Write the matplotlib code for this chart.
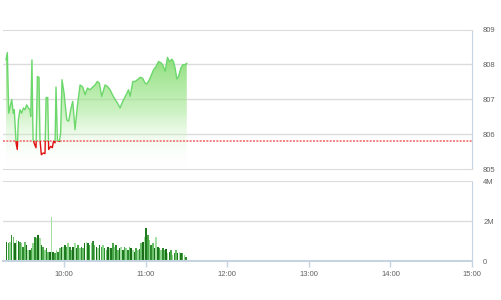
import numpy as np
import matplotlib
matplotlib.use('Agg')
import matplotlib.pyplot as plt
from matplotlib.patches import Rectangle

plt.rcParams['font.family'] = ['Liberation Sans', 'DejaVu Sans']

# minutes after 9:15
price_t = [2.2, 3.2, 4.2, 6.4, 7.6, 8.3, 9.6, 10.5, 11.3, 12.5, 13.7, 15.0, 16.2, 17.4, 18.6,
           19.9, 20.4, 21.3, 22.1, 23.3, 24.3, 25.3, 26.5, 27.2, 28.2, 29.7, 30.9, 31.7, 32.9,
           33.6, 35.1, 36.3, 37.1, 38.3, 39.0, 40.0, 41.5, 42.4, 43.4, 44.9, 46.9, 48.3, 49.8,
           51.3, 53.0, 54.7, 56.7, 58.7, 60.4, 62.1, 64.0, 66.0, 67.7, 69.4, 70.9, 72.6, 75.1,
           76.8, 78.8, 80.5, 82.5, 84.2, 86.1, 88.1, 90.6, 92.3, 93.5, 95.5, 97.2, 98.9, 100.9,
           102.8, 104.5, 105.8, 107.7, 110.7, 112.6, 114.4, 116.1, 117.5, 119.3, 121.0, 122.5,
           124.2, 125.4, 126.6, 127.9, 129.1, 130.8, 132.3, 133.8, 135.2]
price = [808.13, 808.34, 806.60, 806.99, 806.60, 806.70, 805.75, 805.56, 806.41, 806.70, 806.60,
         806.75, 806.70, 806.84, 806.75, 806.70, 806.51, 808.13, 805.84, 805.70, 805.61, 807.65,
         807.63, 805.84, 805.41, 805.46, 805.44, 807.05, 807.05, 805.56, 805.65, 805.61, 805.79,
         805.75, 807.35, 805.84, 805.79, 806.03, 807.56, 807.18, 806.41, 806.37, 806.70, 806.94,
         806.13, 806.80, 807.41, 807.35, 807.13, 807.32, 807.27, 807.35, 807.41, 807.51, 807.46,
         807.08, 807.41, 807.37, 807.27, 807.13, 806.99, 806.89, 806.75, 806.94, 807.13, 807.27,
         807.08, 807.51, 807.51, 807.56, 807.63, 807.60, 807.46, 807.44, 807.56, 807.84, 807.94,
         808.08, 808.05, 807.99, 807.80, 808.20, 808.08, 808.15, 808.08, 807.89, 807.58, 807.65,
         807.89, 807.99, 807.99, 808.03]
ref_price = 805.81

# volume (millions), evenly spaced from vol_first to vol_last minutes after 9:15
vol_first, vol_last = 2.7, 134.6
volume = [0.97, 0.88, 0.97, 1.30, 1.22, 0.88, 1.05, 1.02, 0.97, 0.88, 0.72, 0.97, 0.80, 0.55,
          0.55, 0.63, 0.88, 1.22, 1.13, 1.30, 1.13, 0.80, 0.72, 0.55, 0.63, 0.47, 0.47, 2.18,
          0.47, 0.38, 0.55, 0.47, 0.63,
          0.72, 0.72, 0.80, 0.72, 0.88, 0.68, 0.55, 0.72, 0.88, 0.63, 0.80, 0.63, 0.72, 0.63,
          0.88, 0.97, 0.88, 0.80, 0.88, 1.02, 0.80, 0.72, 0.63, 0.80, 0.72, 0.80, 0.63, 0.55,
          0.72, 0.63, 0.63, 0.88, 0.72, 0.80, 0.55, 0.63, 0.72, 0.55,
          0.72, 0.63, 0.55, 0.72, 0.63, 0.55, 0.47, 0.63, 0.55, 0.58, 0.88, 0.97, 1.22, 1.63,
          1.30, 1.05, 0.80, 0.88, 0.63, 1.22, 0.72, 0.63, 0.55, 0.63, 0.55, 0.58, 0.38, 0.47,
          0.55, 0.30, 0.38, 0.55, 0.38, 0.47, 0.38, 0.42, 0.30, 0.22]

hour_ticks = [10, 11, 12, 13, 14, 15]
hour_labels = ['10:00', '11:00', '12:00', '13:00', '14:00', '15:00']

T0 = 9 * 60 + 15
t = T0 + np.array(price_t)
p = np.array(price)
vt = T0 + np.linspace(vol_first, vol_last, len(volume))

grid_c = '#dcdcdc'
axis_c = '#c6d4e1'
label_c = '#606060'

fig = plt.figure(figsize=(5.01, 3.0), dpi=100)
ax1 = fig.add_axes([3 / 501, 1 - 169 / 300, 469 / 501, 139.5 / 300])
ax2 = fig.add_axes([3 / 501, 1 - 261 / 300, 469 / 501, 80 / 300], sharex=ax1)

xmin, xmax = T0, 15 * 60

# price panel
ax1.set_xlim(xmin, xmax)
ax1.set_ylim(805, 809)
for y in [806, 807, 808]:
    ax1.axhline(y, color=grid_c, lw=1, zorder=0)

poly = ax1.fill_between(t, p, 805, color='none', lw=0)
grad = np.linspace(0, 1, 256).reshape(-1, 1)
cmap = matplotlib.colors.LinearSegmentedColormap.from_list(
    'g', [(1, 1, 1, 0), (0.62, 0.9, 0.55, 0.55), (0.5, 0.86, 0.42, 0.95)])
img = ax1.imshow(grad, cmap=cmap, aspect='auto', origin='lower',
                 extent=[t[0], t[-1], 805, 808.4], zorder=1)
img.set_clip_path(poly.get_paths()[0], transform=ax1.transData)

up, = ax1.plot(t, p, color='#6cd86c', lw=1, zorder=3)
dn, = ax1.plot(t, p, color='#e01010', lw=1, zorder=3)
up.set_clip_path(Rectangle((xmin, ref_price), xmax - xmin, 10, transform=ax1.transData))
dn.set_clip_path(Rectangle((xmin, 800), xmax - xmin, ref_price - 800, transform=ax1.transData))
ax1.axhline(ref_price, color='#f07070', lw=1.2, ls=(0, (1.2, 0.8)), zorder=2)

ax1.yaxis.tick_right()
ax1.set_yticks([805, 806, 807, 808, 809])
ax1.tick_params(axis='y', length=0, pad=8, labelsize=5.5, labelcolor=label_c)
ax1.tick_params(axis='x', which='both', length=0, labelbottom=False)
ax1.spines['left'].set_visible(False)
ax1.spines['top'].set_color(grid_c)
ax1.spines['bottom'].set_color(grid_c)
ax1.spines['right'].set_color(axis_c)

# volume panel
shades = ['#1f7a1f', '#4aa84a', '#8fd68f', '#2e8b2e', '#6cc06c', '#1a6e1a', '#a5e0a5']
cols = [shades[i % len(shades)] for i in range(len(volume))]
ax2.bar(vt, volume, width=1.15, color=cols, lw=0, zorder=2)
ax2.set_ylim(0, 4)
ax2.axhline(2, color=grid_c, lw=1, zorder=0)
ax2.yaxis.tick_right()
ax2.set_yticks([0, 2, 4])
ax2.set_yticklabels(['0', '2M', '4M'])
ax2.tick_params(axis='y', length=0, pad=8, labelsize=5.5, labelcolor=label_c)
ax2.set_xticks([h * 60 for h in hour_ticks])
ax2.set_xticklabels(hour_labels)
ax2.tick_params(axis='x', length=4, width=1, color=axis_c, pad=3, labelsize=5.5, labelcolor=label_c)
ax2.spines['left'].set_visible(False)
ax2.spines['top'].set_color(grid_c)
ax2.spines['bottom'].set_color(axis_c)
ax2.spines['bottom'].set_linewidth(1.5)
ax2.spines['right'].set_color(axis_c)

fig.savefig('out.png', dpi=100)
